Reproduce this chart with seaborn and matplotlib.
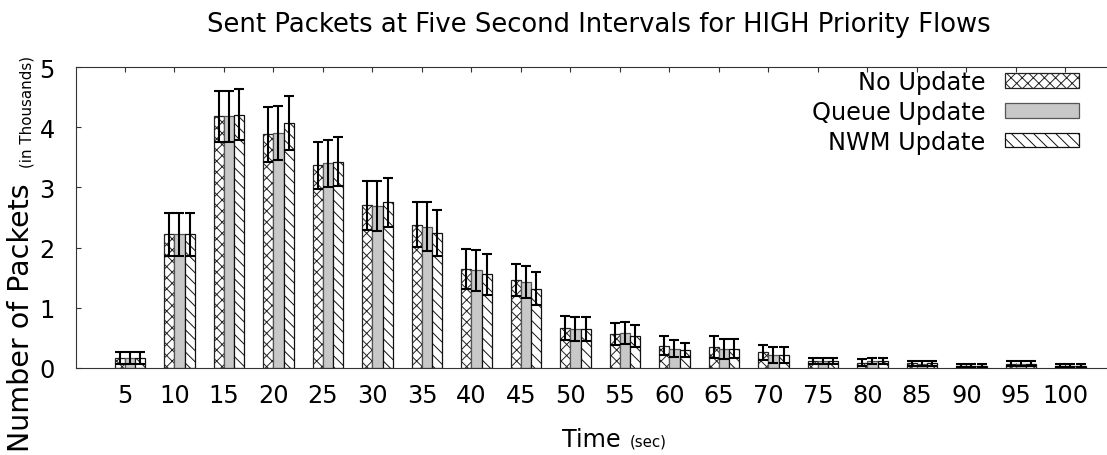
import numpy as np
import pandas as pd
import matplotlib
matplotlib.use("Agg")
import matplotlib.pyplot as plt
import seaborn as sns

times = [5, 10, 15, 20, 25, 30, 35, 40, 45, 50, 55, 60, 65, 70, 75, 80, 85, 90, 95, 100]
methods = ["No Update", "Queue Update", "NWM Update"]
no_update = [0.17, 2.22, 4.18, 3.88, 3.37, 2.70, 2.38, 1.64, 1.46, 0.67, 0.56, 0.37, 0.35, 0.26, 0.12, 0.09, 0.08, 0.04, 0.07, 0.04]
no_update_err = [0.10, 0.36, 0.42, 0.45, 0.39, 0.41, 0.37, 0.33, 0.27, 0.20, 0.18, 0.16, 0.18, 0.13, 0.05, 0.06, 0.04, 0.02, 0.04, 0.02]
queue = [0.16, 2.22, 4.18, 3.91, 3.40, 2.69, 2.35, 1.62, 1.43, 0.65, 0.58, 0.32, 0.32, 0.22, 0.11, 0.11, 0.07, 0.04, 0.07, 0.04]
queue_err = [0.10, 0.36, 0.42, 0.45, 0.39, 0.42, 0.40, 0.34, 0.26, 0.20, 0.18, 0.14, 0.17, 0.13, 0.05, 0.05, 0.04, 0.02, 0.04, 0.02]
nwm = [0.17, 2.22, 4.21, 4.07, 3.43, 2.75, 2.24, 1.56, 1.32, 0.65, 0.53, 0.30, 0.32, 0.22, 0.11, 0.11, 0.08, 0.04, 0.07, 0.04]
nwm_err = [0.10, 0.36, 0.42, 0.45, 0.40, 0.41, 0.38, 0.34, 0.28, 0.20, 0.18, 0.12, 0.16, 0.13, 0.05, 0.05, 0.04, 0.02, 0.04, 0.02]
y_ticks = [0, 1, 2, 3, 4, 5]

values = [no_update, queue, nwm]
errors = [no_update_err, queue_err, nwm_err]

sns.set_theme(style="white")
plt.rcParams["font.family"] = ["DejaVu Sans"]
plt.rcParams["hatch.linewidth"] = 0.7
plt.rcParams["text.color"] = "black"
plt.rcParams["xtick.color"] = "black"
plt.rcParams["ytick.color"] = "black"
plt.rcParams["xtick.labelcolor"] = "black"
plt.rcParams["ytick.labelcolor"] = "black"

df = pd.DataFrame({
    "time": [str(t) for m in methods for t in times],
    "method": [m for m in methods for _ in times],
    "value": [v for vals in values for v in vals],
})

W, H = 1107, 456
fig = plt.figure(figsize=(W / 100, H / 100), dpi=100)
ax = fig.add_axes([75.5 / W, 1 - 369 / H, (1115 - 75.5) / W, (369 - 68) / H])

fills = ["white", "#c8c8c8", "white"]
edges = ["#222222", "#555555", "#111111"]
hatches = ["xxx", "", "\\\\\\"]

sns.barplot(data=df, x="time", y="value", hue="method", order=[str(t) for t in times],
            hue_order=methods, palette=fills, width=0.62, errorbar=None,
            legend=False, ax=ax, saturation=1)

bar_containers = list(ax.containers)
for cont, ec, h in zip(bar_containers, edges, hatches):
    for p in cont:
        p.set_edgecolor(ec)
        p.set_linewidth(0.9)
        p.set_hatch(h)

leg = ax.legend(handles=[c[0] for c in bar_containers], labels=methods,
                loc="upper right", bbox_to_anchor=(1079 / W, 1 - 71 / H),
                bbox_transform=fig.transFigure, frameon=False, markerfirst=False,
                fontsize=17.3, handlelength=3.08, handleheight=0.56,
                handletextpad=0.83, labelspacing=0.24, borderpad=0, borderaxespad=0)
for t in leg.get_texts():
    t.set_color("black")

for cont, vals, errs in zip(bar_containers, values, errors):
    centers = [p.get_x() + p.get_width() / 2 for p in cont]
    ax.errorbar(centers, vals, yerr=errs, fmt="none", ecolor="black",
                elinewidth=1.5, capsize=3.8, capthick=1.5, zorder=5)

ax.set_xlim(-1.1, 19.9)
ax.set_ylim(0, 5)
ax.set_xticks(np.arange(len(times)) - 0.1)
ax.set_xticklabels([str(t) for t in times])
ax.set_yticks(y_ticks)
ax.set_yticklabels([str(t) for t in y_ticks])
ax.set_xlabel("")
ax.set_ylabel("")
ax.tick_params(axis="both", direction="in", length=3.6, width=0.8, color="#333333",
               labelsize=17.3, labelcolor="black", top=True, right=True, bottom=True, left=True)
ax.tick_params(axis="x", pad=11)
ax.tick_params(axis="y", pad=15)
for s in ax.spines.values():
    s.set_color("#333333")
    s.set_linewidth(0.8)
    s.set_visible(True)

fig.text(599 / W, 1 - 31.7 / H, "Sent Packets at Five Second Intervals for HIGH Priority Flows",
         ha="center", va="baseline", fontsize=18.6, color="black")
fig.text(562 / W, 1 - 447 / H, "Time", ha="left", va="baseline", fontsize=17.3, color="black")
fig.text(630 / W, 1 - 447 / H, "(sec)", ha="left", va="baseline", fontsize=10.8, color="black")
fig.text(29 / W, 1 - 452 / H, "Number of Packets", rotation=90, rotation_mode="anchor",
         ha="left", va="baseline", fontsize=20.5, color="black")
fig.text(31 / W, 1 - 168 / H, "(in Thousands)", rotation=90, rotation_mode="anchor",
         ha="left", va="baseline", fontsize=10.8, color="black")

fig.savefig("out.png", dpi=100)
